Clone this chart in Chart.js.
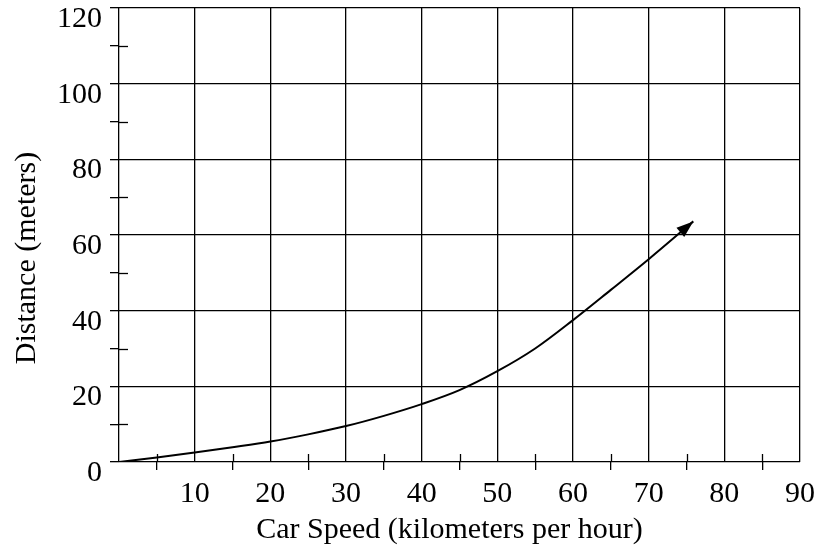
<!DOCTYPE html>
<html>
<head>
<meta charset="utf-8">
<script src="https://cdn.jsdelivr.net/npm/chart.js@4/dist/chart.umd.min.js"></script>
<style>
  html, body { margin: 0; padding: 0; background: #fff; }
  #wrap { width: 825px; height: 548px; }
</style>
</head>
<body>
<div id="wrap"><canvas id="c" width="825" height="548"></canvas></div>
<script>
// ---- data ----
const speeds    = [0, 5, 10, 15, 20, 25, 30, 35, 40, 45, 50, 55, 60, 65, 70, 75.9];
const distances = [0, 1.2, 2.5, 3.9, 5.4, 7.3, 9.5, 12.2, 15.3, 19, 24, 30, 37.5, 45.5, 53.6, 63.6];
const xTitle = 'Car Speed (kilometers per hour)';
const yTitle = 'Distance (meters)';
const xMax = 90, yMax = 120;
const xMajor = 10, yMajor = 20;

const FONT = '"Liberation Serif", "Times New Roman", serif';
const FS = 30;

const points = speeds.map((s, i) => ({ x: s, y: distances[i] }));

const decorPlugin = {
  id: 'decor',
  afterDatasetsDraw(chart) {
    const ctx = chart.ctx;
    const xs = chart.scales.x, ys = chart.scales.y;
    const ca = chart.chartArea;
    ctx.save();
    ctx.strokeStyle = '#000';
    ctx.lineWidth = 1.3;
    // inner halves of minor ticks
    for (let v = xMajor / 2; v < xMax; v += xMajor) {
      const px = Math.round(xs.getPixelForValue(v)) + 0.5;
      ctx.beginPath(); ctx.moveTo(px, ca.bottom); ctx.lineTo(px, ca.bottom - 8); ctx.stroke();
    }
    for (let v = yMajor / 2; v < yMax; v += yMajor) {
      const py = Math.round(ys.getPixelForValue(v)) + 0.5;
      ctx.beginPath(); ctx.moveTo(ca.left, py); ctx.lineTo(ca.left + 9, py); ctx.stroke();
    }
    // arrow head at the last point
    const meta = chart.getDatasetMeta(0);
    const n = meta.data.length;
    const p1 = meta.data[n - 1], p0 = meta.data[n - 2];
    const cp = p1.cp1x !== undefined ? { x: p1.cp1x, y: p1.cp1y } : p0;
    let dx = p1.x - cp.x, dy = p1.y - cp.y;
    const len = Math.hypot(dx, dy) || 1;
    dx /= len; dy /= len;
    const L = 17, W = 6;
    const bx = p1.x - dx * L, by = p1.y - dy * L;
    ctx.fillStyle = '#000';
    ctx.beginPath();
    ctx.moveTo(p1.x, p1.y);
    ctx.lineTo(bx - dy * W, by + dx * W);
    ctx.lineTo(bx + dy * W, by - dx * W);
    ctx.closePath();
    ctx.fill();
    // axis titles
    ctx.fillStyle = '#000';
    ctx.font = FS + 'px ' + FONT;
    ctx.textAlign = 'center';
    ctx.textBaseline = 'middle';
    ctx.fillText(xTitle, (ca.left + ca.right) / 2 - 10, 530);
    ctx.translate(27, (ca.top + ca.bottom) / 2 + 23);
    ctx.rotate(-Math.PI / 2);
    ctx.fillText(yTitle, 0, 0);
    ctx.restore();
  }
};

new Chart(document.getElementById('c'), {
  type: 'line',
  data: {
    datasets: [{
      data: points,
      borderColor: '#000',
      borderWidth: 2,
      pointRadius: 0,
      fill: false,
      cubicInterpolationMode: 'monotone'
    }]
  },
  options: {
    responsive: false,
    animation: false,
    devicePixelRatio: 1,
    layout: { padding: { left: 0, right: 25, top: 8, bottom: 0 } },
    plugins: { legend: { display: false }, tooltip: { enabled: false } },
    scales: {
      x: {
        type: 'linear',
        min: 0, max: xMax,
        afterFit(s) { s.height = 86; s.paddingLeft = 0; s.paddingRight = 0; },
        border: { display: false },
        grid: {
          color: c => (c.tick && c.tick.value % xMajor === 0) ? '#000' : 'rgba(0,0,0,0)',
          tickColor: c => (c.tick && c.tick.value % xMajor === 0) ? 'rgba(0,0,0,0)' : '#000',
          lineWidth: 1.3,
          tickLength: 8
        },
        ticks: {
          stepSize: xMajor / 2,
          autoSkip: false,
          maxRotation: 0,
          color: '#000',
          font: { family: FONT, size: FS },
          padding: 6,
          callback: v => (v % xMajor === 0 && v !== 0) ? String(v) : ''
        }
      },
      y: {
        type: 'linear',
        min: 0, max: yMax,
        afterFit(s) { s.width = 119; s.paddingTop = 0; s.paddingBottom = 0; },
        border: { display: false },
        grid: {
          color: c => (c.tick && c.tick.value % yMajor === 0) ? '#000' : 'rgba(0,0,0,0)',
          tickColor: '#000',
          lineWidth: 1.3,
          tickLength: 9
        },
        ticks: {
          stepSize: yMajor / 2,
          autoSkip: false,
          color: '#000',
          font: { family: FONT, size: FS },
          padding: 8,
          labelOffset: 11,
          callback: v => (v % yMajor === 0) ? String(v) : ''
        }
      }
    }
  },
  plugins: [decorPlugin]
});
</script>
</body>
</html>
